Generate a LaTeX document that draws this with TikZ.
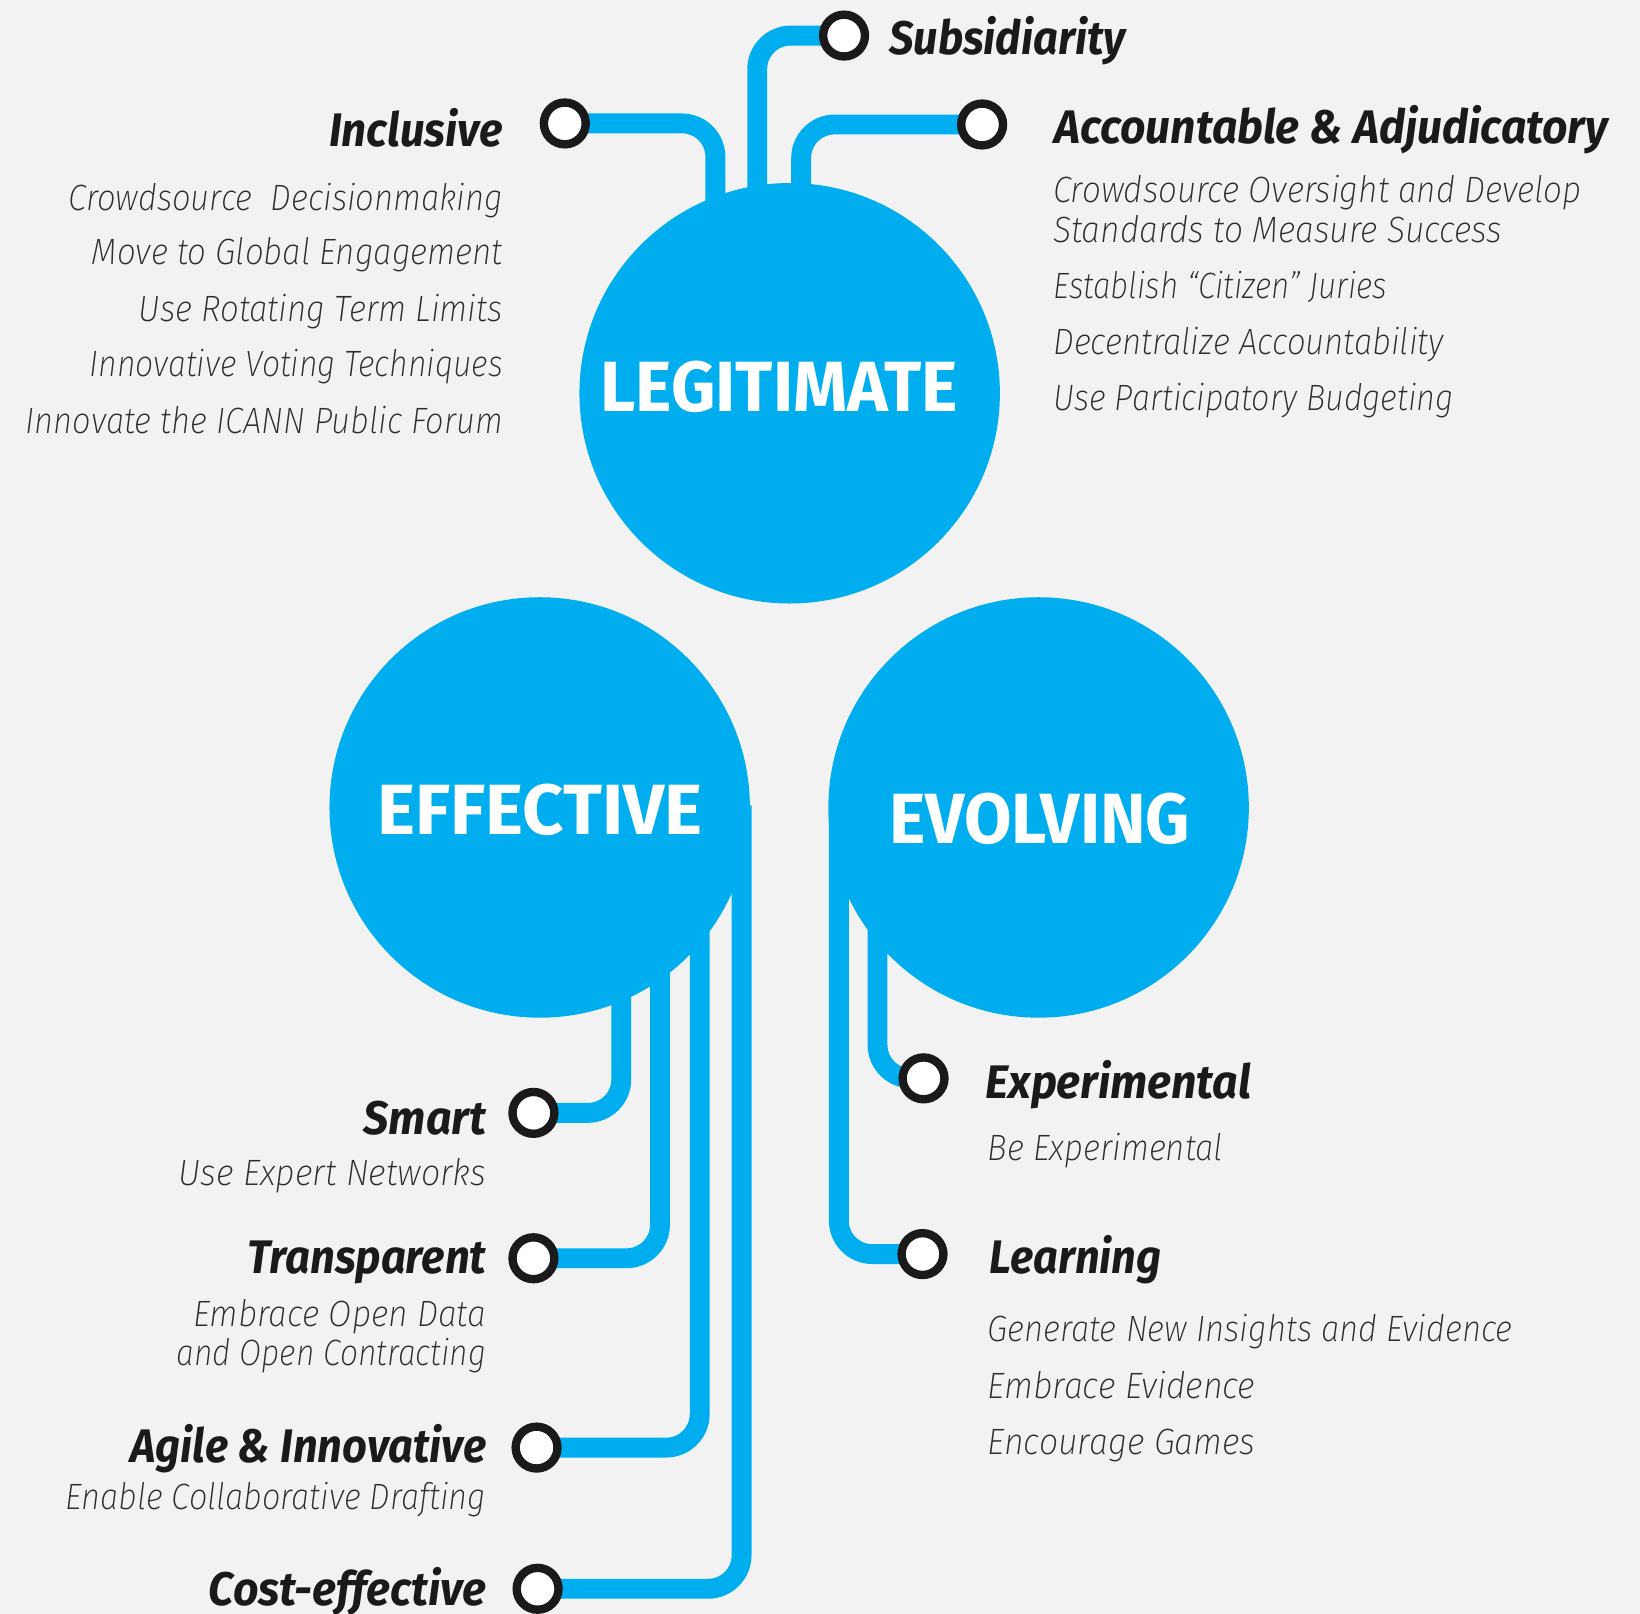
\documentclass[tikz,border=0pt]{standalone}
\usepackage{fontspec}
\usepackage{graphicx}
\setmainfont{Fira Sans}
\IfFontExistsTF{Fira Sans ExtraLight Italic}
  {\newfontfamily\dscfont{Fira Sans ExtraLight Italic}}
  {\IfFontExistsTF{Fira Sans Light Italic}
     {\newfontfamily\dscfont{Fira Sans Light Italic}}
     {\newcommand\dscfont{\itshape}}}
\definecolor{bluec}{RGB}{0,174,239}
\definecolor{bgc}{RGB}{242,242,242}
\definecolor{inkc}{RGB}{26,26,26}
\definecolor{dscc}{RGB}{45,45,45}
\newcommand\fitw[2]{\resizebox{#1pt}{\height}{#2}}
\pgfdeclarelayer{bg}
\pgfsetlayers{bg,main}
\begin{document}
\begin{tikzpicture}[x=1pt,y=-1pt,
 bigc/.style={circle,fill=bluec,minimum size=402pt,inner sep=0pt},
 dot/.style={circle,draw=inkc,line width=8pt,fill=white,minimum size=40pt,inner sep=0pt},
 link/.style={draw=bluec,line width=19pt,rounded corners=32pt},
 ttl/.style={inner sep=0pt,text=inkc,font=\bfseries\itshape\fontsize{45}{54}\selectfont},
 dsc/.style={inner sep=0pt,text=dscc,font=\dscfont\fontsize{35}{42}\selectfont},
 cir/.style={inner sep=0pt,text=white,font=\bfseries\fontsize{68}{80}\selectfont},
]
\useasboundingbox (0,0) rectangle (1568,1543);
\begin{pgfonlayer}{bg}
\fill[bgc] (0,0) rectangle (1568,1543);
\end{pgfonlayer}

% big circles
\node[bigc] (leg) at (755,376) {};
\node[bigc] (eff) at (516,772) {};
\node[bigc] (evo) at (993,772) {};
\node[cir,anchor=base] (legt) at (745,393) {\fitw{342}{LEGITIMATE}};
\node[cir,anchor=base] (efft) at (516,798) {\fitw{311}{EFFECTIVE}};
\node[cir,anchor=base] (evot) at (994,806) {\fitw{288}{EVOLVING}};

% dots
\node[dot] (sub) at (807,34) {};
\node[dot] (inc) at (540,118) {};
\node[dot] (acc) at (939,119) {};
\node[dot] (sma) at (510,1064) {};
\node[dot] (tra) at (510,1203) {};
\node[dot] (agi) at (513,1384) {};
\node[dot] (cos) at (514,1519) {};
\node[dot] (exp) at (883,1031) {};
\node[dot] (lea) at (882,1199) {};

% connector ends inside the big circles
\coordinate (incE) at (684,205);
\coordinate (subE) at (724,195);
\coordinate (accE) at (766,195);
\coordinate (smaE) at (594,940);
\coordinate (traE) at (631,910);
\coordinate (agiE) at (669,880);
\coordinate (cosE) at (709,770);
\coordinate (expE) at (839,860);
\coordinate (leaE) at (802,775);

\begin{pgfonlayer}{bg}
\draw[link] (inc.center) -| (incE);
\draw[link] (sub.center) -| (subE);
\draw[link] (acc.center) -| (accE);
\draw[link] (smaE) |- (sma.center);
\draw[link] (traE) |- (tra.center);
\draw[link] (agiE) |- (agi.center);
\draw[link] (cosE) |- (cos.center);
\draw[link] (expE) |- (exp.center);
\draw[link] (leaE) |- (lea.center);
\end{pgfonlayer}

% titles
\node[ttl,anchor=base west] (tsub) at (850,52) {\fitw{226}{Subsidiarity}};
\node[ttl,anchor=base east] (tinc) at (481,140) {\fitw{166}{Inclusive}};
\node[ttl,anchor=base west] (tacc) at (1008,137) {\fitw{529}{Accountable \& Adjudicatory}};
\node[ttl,anchor=base east] (tsma) at (465,1085) {\fitw{117}{Smart}};
\node[ttl,anchor=base east] (ttra) at (465,1218) {\fitw{228}{Transparent}};
\node[ttl,anchor=base east] (tagi) at (465,1398) {\fitw{340}{Agile \& Innovative}};
\node[ttl,anchor=base east] (tcos) at (465,1535) {\fitw{265}{Cost-effective}};
\node[ttl,anchor=base west] (texp) at (942,1050) {\fitw{254}{Experimental}};
\node[ttl,anchor=base west] (tlea) at (946,1218) {\fitw{164}{Learning}};

% descriptions: Inclusive
\node[dsc,anchor=base east] (d1) at (481,201) {\fitw{415}{Crowdsource\ \ Decisionmaking}};
\node[dsc,anchor=base east] (d2) at (481,253) {\fitw{393}{Move to Global Engagement}};
\node[dsc,anchor=base east] (d3) at (481,307) {\fitw{348}{Use Rotating Term Limits}};
\node[dsc,anchor=base east] (d4) at (481,360) {\fitw{395}{Innovative Voting Techniques}};
\node[dsc,anchor=base east] (d5) at (481,414) {\fitw{456}{Innovate the ICANN Public Forum}};
% Accountable
\node[dsc,anchor=base west] (a1) at (1007,194) {\fitw{505}{Crowdsource Oversight and Develop}};
\node[dsc,anchor=base west] (a2) at (1007,232) {\fitw{429}{Standards to Measure Success}};
\node[dsc,anchor=base west] (a3) at (1007,285) {\fitw{319}{Establish “Citizen” Juries}};
\node[dsc,anchor=base west] (a4) at (1007,339) {\fitw{373}{Decentralize Accountability}};
\node[dsc,anchor=base west] (a5) at (1007,392) {\fitw{383}{Use Participatory Budgeting}};
% Effective
\node[dsc,anchor=base east] (s1) at (465,1133) {\fitw{294}{Use Expert Networks}};
\node[dsc,anchor=base east] (r1) at (465,1268) {\fitw{280}{Embrace Open Data}};
\node[dsc,anchor=base east] (r2) at (465,1306) {\fitw{296}{and Open Contracting}};
\node[dsc,anchor=base east] (g1) at (465,1443) {\fitw{402}{Enable Collaborative Drafting}};
% Evolving
\node[dsc,anchor=base west] (e1) at (944,1110) {\fitw{225}{Be Experimental}};
\node[dsc,anchor=base west] (l1) at (944,1283) {\fitw{502}{Generate New Insights and Evidence}};
\node[dsc,anchor=base west] (l2) at (944,1337) {\fitw{256}{Embrace Evidence}};
\node[dsc,anchor=base west] (l3) at (944,1391) {\fitw{256}{Encourage Games}};
\end{tikzpicture}
\end{document}
